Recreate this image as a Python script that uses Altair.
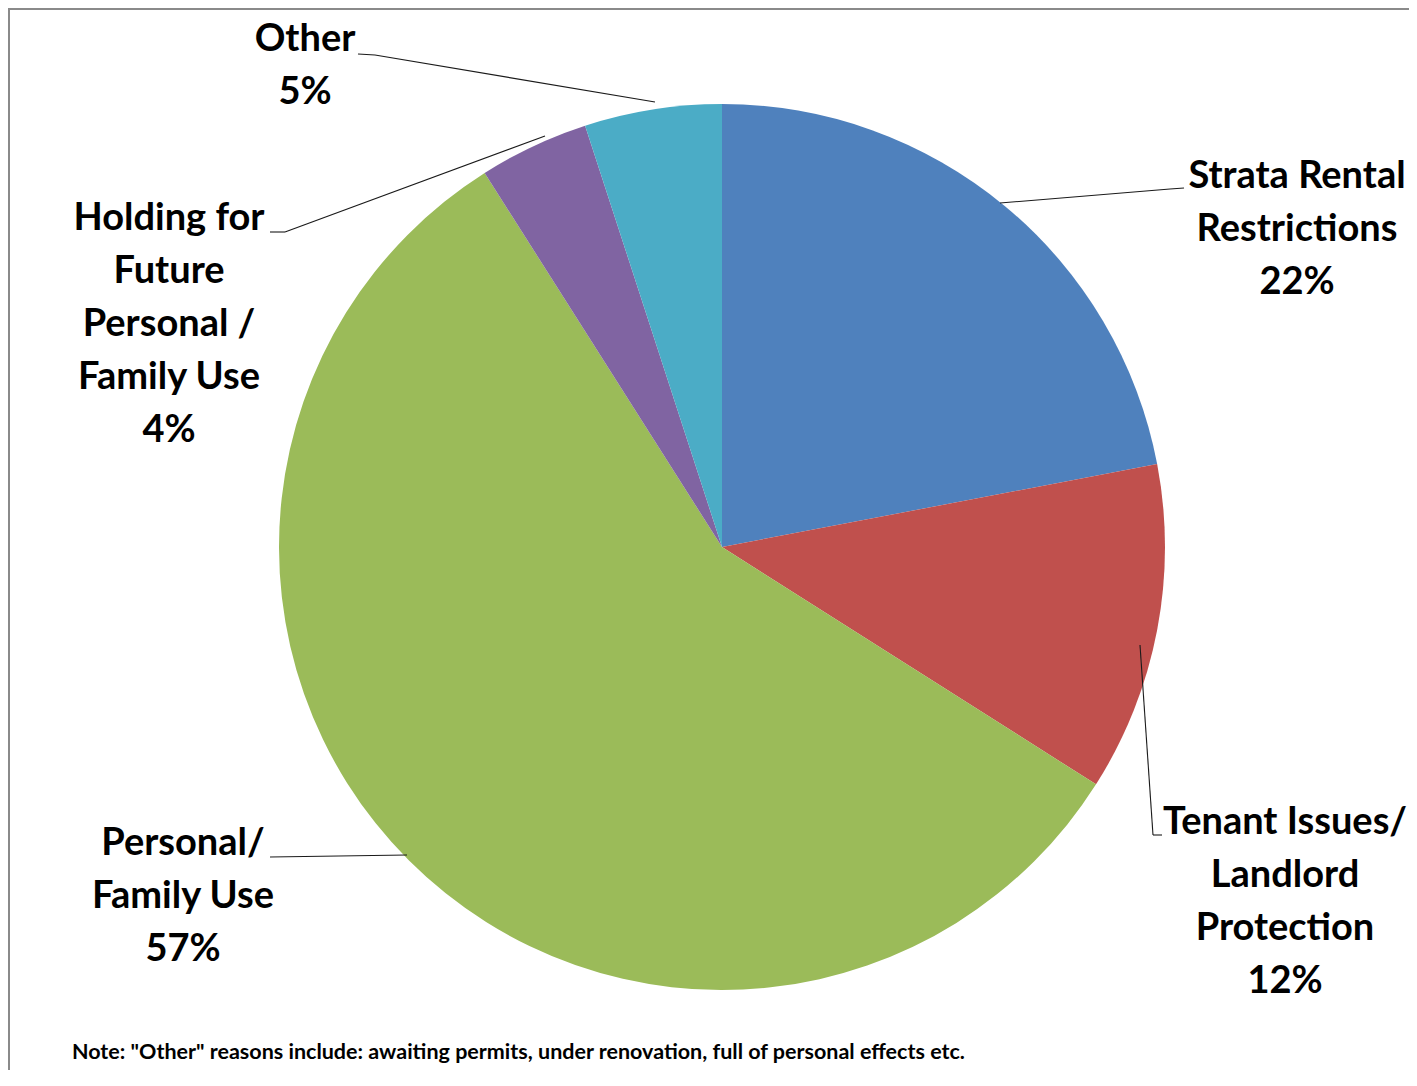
import altair as alt
import pandas as pd

# ---- data ----
categories = [
    "Strata Rental Restrictions",
    "Tenant Issues/ Landlord Protection",
    "Personal/ Family Use",
    "Holding for Future Personal / Family Use",
    "Other",
]
values = [22, 12, 57, 4, 5]
label_lines = [
    ["Strata Rental", "Restrictions"],
    ["Tenant Issues/", "Landlord", "Protection"],
    ["Personal/", "Family Use"],
    ["Holding for", "Future", "Personal /", "Family Use"],
    ["Other"],
]
colors = ["#4F81BD", "#C0504D", "#9BBB59", "#8064A2", "#4BACC6"]
note = 'Note: "Other" reasons include: awaiting permits, under renovation, full of personal effects etc.'

# ---- layout (page pixel coordinates, shifted by the 8px page margin) ----
OFF = 8
W, H = 1401, 1062
CX, CY, R = 722 - OFF, 547 - OFF, 443
FONT = "Lato"

label_pos = [  # centre of the first line of each label block
    (1297, 177),
    (1285, 823),
    (183, 844),
    (169, 219),
    (305, 40),
]
leaders = [
    [(1000, 203), (1170, 189), (1184, 188)],
    [(1140, 645), (1153, 835), (1162, 835)],
    [(407, 855), (270, 857)],
    [(545, 136), (285, 232), (270, 232)],
    [(655, 102), (375, 55), (358, 54)],
]

pie_df = pd.DataFrame({"category": categories, "value": values, "order": list(range(len(values)))})

lab_rows = []
for lines, v, (x, y) in zip(label_lines, values, label_pos):
    lab_rows.append({"text": "\n".join(lines + [f"{v}%"]), "x": x - OFF, "y": y - OFF})
lab_df = pd.DataFrame(lab_rows)

seg_rows = []
for pts in leaders:
    for (x1, y1), (x2, y2) in zip(pts[:-1], pts[1:]):
        seg_rows.append({"x": x1 - OFF, "y": y1 - OFF, "x2": x2 - OFF, "y2": y2 - OFF})
seg_df = pd.DataFrame(seg_rows)

border_df = pd.DataFrame([
    {"x": 1, "y": 0, "x2": 1, "y2": H},
    {"x": 0, "y": 1, "x2": W, "y2": 1},
])

pie = alt.Chart(pie_df).mark_arc(radius=R, stroke=None).encode(
    theta=alt.Theta("value:Q", stack=True),
    order=alt.Order("order:Q"),
    color=alt.Color("category:N", scale=alt.Scale(domain=categories, range=colors), legend=None),
    x=alt.value(CX),
    y=alt.value(CY),
)

segs = alt.Chart(seg_df).mark_rule(color="#1a1a1a", strokeWidth=1.1).encode(
    x=alt.X("x:Q", scale=None, axis=None),
    y=alt.Y("y:Q", scale=None, axis=None),
    x2="x2:Q",
    y2="y2:Q",
)

border = alt.Chart(border_df).mark_rule(color="#8a8a8a", strokeWidth=2).encode(
    x=alt.X("x:Q", scale=None, axis=None),
    y=alt.Y("y:Q", scale=None, axis=None),
    x2="x2:Q",
    y2="y2:Q",
)

labels = alt.Chart(lab_df).mark_text(
    font=FONT, fontSize=38, fontWeight="bold", color="#000000",
    align="center", baseline="middle", lineBreak="\n", lineHeight=53,
).encode(
    x=alt.X("x:Q", scale=None, axis=None),
    y=alt.Y("y:Q", scale=None, axis=None),
    text="text:N",
)

note_df = pd.DataFrame({"text": [note], "x": [72 - OFF], "y": [1053 - OFF]})
note_mark = alt.Chart(note_df).mark_text(
    font=FONT, fontSize=21.5, fontWeight="bold", color="#000000",
    align="left", baseline="middle",
).encode(
    x=alt.X("x:Q", scale=None, axis=None),
    y=alt.Y("y:Q", scale=None, axis=None),
    text="text:N",
)

chart = alt.layer(border, pie, segs, labels, note_mark).properties(
    width=W, height=H, autosize=alt.AutoSizeParams(type="none"), padding=0,
).configure_view(stroke=None).configure(background="white")

chart.save("out.html", embed_options={"renderer": "svg", "actions": False})
